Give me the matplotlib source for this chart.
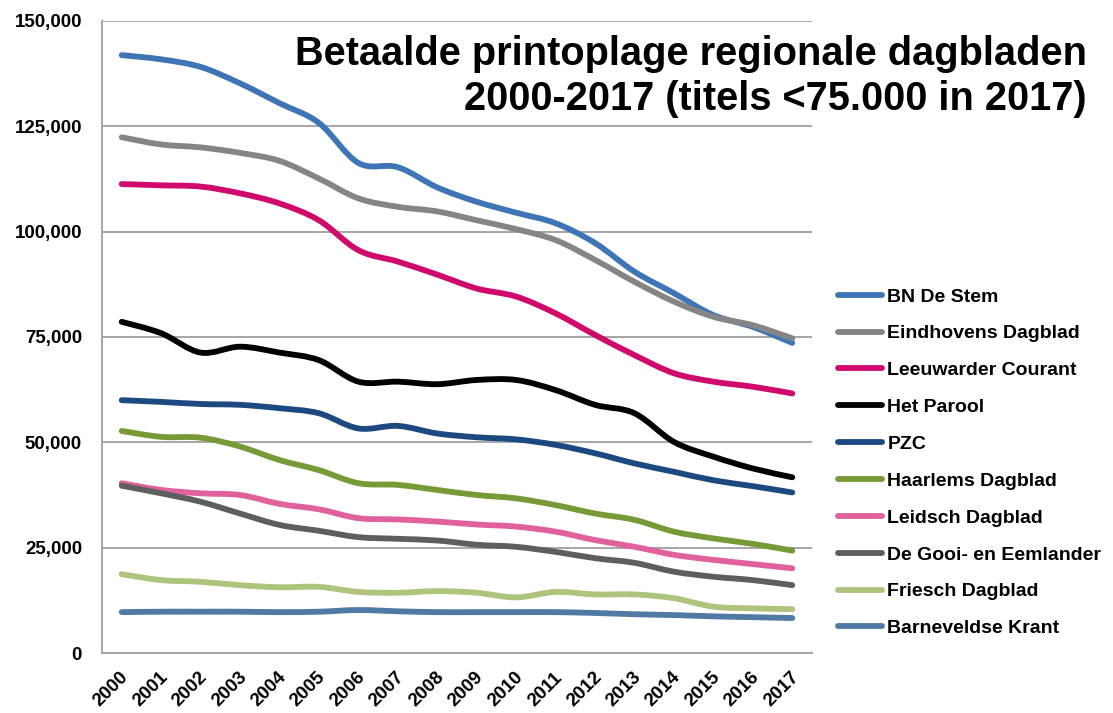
import matplotlib
matplotlib.use("Agg")
import matplotlib.pyplot as plt
from matplotlib.path import Path
from matplotlib.patches import PathPatch
from matplotlib.lines import Line2D
from matplotlib.ticker import FuncFormatter
import matplotlib.transforms as mtransforms
import numpy as np

years = [str(y) for y in range(2000, 2018)]

series_names = ["BN De Stem", "Eindhovens Dagblad", "Leeuwarder Courant", "Het Parool",
                "PZC", "Haarlems Dagblad", "Leidsch Dagblad", "De Gooi- en Eemlander",
                "Friesch Dagblad", "Barneveldse Krant"]

bn_de_stem = [141900, 140900, 139100, 135200, 130500, 125800, 116300, 115300, 110500,
              107100, 104500, 102000, 97300, 90500, 85400, 80200, 77400, 73600]
eindhovens = [122400, 120700, 120000, 118700, 116800, 112600, 107900, 105900, 104800,
              102700, 100600, 98000, 93300, 88100, 83400, 79800, 77800, 74700]
leeuwarder = [111300, 111000, 110700, 109100, 106700, 102700, 95600, 92900, 89800,
              86500, 84600, 80600, 75500, 70700, 66400, 64400, 63200, 61600]
het_parool = [78600, 75900, 71300, 72700, 71300, 69500, 64400, 64400, 63800,
              64800, 64800, 62400, 58900, 56900, 50100, 46600, 43800, 41700]
pzc = [60000, 59600, 59100, 58900, 58100, 56900, 53300, 53900, 52100,
       51200, 50700, 49400, 47400, 45000, 43000, 41000, 39600, 38100]
haarlems = [52700, 51300, 51100, 49000, 45800, 43400, 40300, 39900, 38700,
            37500, 36700, 35100, 33100, 31600, 28800, 27200, 25900, 24300]
leidsch = [40300, 38700, 37900, 37500, 35400, 34100, 32000, 31700, 31200,
           30500, 30000, 28800, 26800, 25200, 23300, 22100, 21100, 20100]
de_gooi = [39700, 37900, 35900, 33100, 30400, 29000, 27500, 27100, 26700,
           25700, 25200, 24000, 22500, 21400, 19300, 18100, 17300, 16100]
friesch = [18700, 17300, 16900, 16100, 15600, 15700, 14500, 14300, 14700,
           14300, 13200, 14500, 13900, 13900, 13000, 11000, 10600, 10400]
barneveldse = [9700, 9800, 9800, 9800, 9700, 9800, 10200, 9900, 9700,
               9700, 9700, 9700, 9500, 9200, 9000, 8700, 8500, 8300]

series_values = [bn_de_stem, eindhovens, leeuwarder, het_parool, pzc, haarlems,
                 leidsch, de_gooi, friesch, barneveldse]
colors = ["#3f74b6", "#858585", "#cf0a6c", "#000000", "#1c4a80",
          "#789a36", "#e0619b", "#5e5e5e", "#aec47c", "#5079a6"]

title_lines = ["Betaalde printoplage regionale dagbladen",
               "2000-2017 (titels <75.000 in 2017)"]

plt.rcParams['font.family'] = ['Liberation Sans', 'DejaVu Sans']

fig = plt.figure(figsize=(11.13, 7.13), dpi=100)
ax = fig.add_axes([102/1113, 60/713, 710/1113, 632/713])


def smooth_path(xs, ys):
    # Excel-style smoothed line: cubic Bezier through every data point
    pts = np.column_stack([xs, ys]).astype(float)
    n = len(pts)
    verts = [pts[0]]
    codes = [Path.MOVETO]
    for i in range(n - 1):
        p0 = pts[i - 1] if i > 0 else pts[i]
        p1 = pts[i]
        p2 = pts[i + 1]
        p3 = pts[i + 2] if i + 2 < n else pts[i + 1]
        c1 = p1 + (p2 - p0) / 6.0
        c2 = p2 - (p3 - p1) / 6.0
        verts += [c1, c2, p2]
        codes += [Path.CURVE4] * 3
    return Path(verts, codes)


x = np.arange(len(years))
handles = []
for name, vals, col in zip(series_names, series_values, colors):
    patch = PathPatch(smooth_path(x, vals), facecolor='none', edgecolor=col,
                      lw=4.2, capstyle='round', joinstyle='round')
    ax.add_patch(patch)
    handles.append(Line2D([], [], color=col, lw=4.2, solid_capstyle='round', label=name))

ax.set_xlim(-0.5, len(years) - 0.5)
ax.set_ylim(0, 150000)
ax.set_yticks(np.arange(0, 150001, 25000))
ax.yaxis.set_major_formatter(FuncFormatter(lambda v, p: f"{int(v):,}"))
ax.grid(axis='y', color='#a6a6a6', lw=1.4)
ax.set_axisbelow(True)
for s in ['top', 'right']:
    ax.spines[s].set_visible(False)
for s in ['left', 'bottom']:
    ax.spines[s].set_color('#a6a6a6')
    ax.spines[s].set_linewidth(1.4)
ax.tick_params(axis='both', length=0)
ax.tick_params(axis='y', pad=14.4, labelsize=13.5)
for lab in ax.get_yticklabels():
    lab.set_fontweight('bold')

ax.set_xticks(x)
ax.set_xticklabels(years, rotation=45, ha='right', va='center',
                   rotation_mode='anchor', fontsize=13.5, fontweight='bold')
offset = mtransforms.ScaledTranslation(4/100, -17/100, fig.dpi_scale_trans)
for lab in ax.get_xticklabels():
    lab.set_transform(lab.get_transform() + offset)

fig.text(1087/1113, (713-65)/713, title_lines[0], ha='right', va='baseline',
         fontsize=28.6, fontweight='bold')
fig.text(1087/1113, (713-110)/713, title_lines[1], ha='right', va='baseline',
         fontsize=28.6, fontweight='bold')

fig.legend(handles=handles, loc='upper left', bbox_to_anchor=(834/1113, (713-284)/713),
           frameon=False, prop={'size': 14, 'weight': 'bold'}, handlelength=2.25,
           handletextpad=0.3, labelspacing=0.99, borderaxespad=0, borderpad=0.2)

fig.savefig("out.png", dpi=100)
